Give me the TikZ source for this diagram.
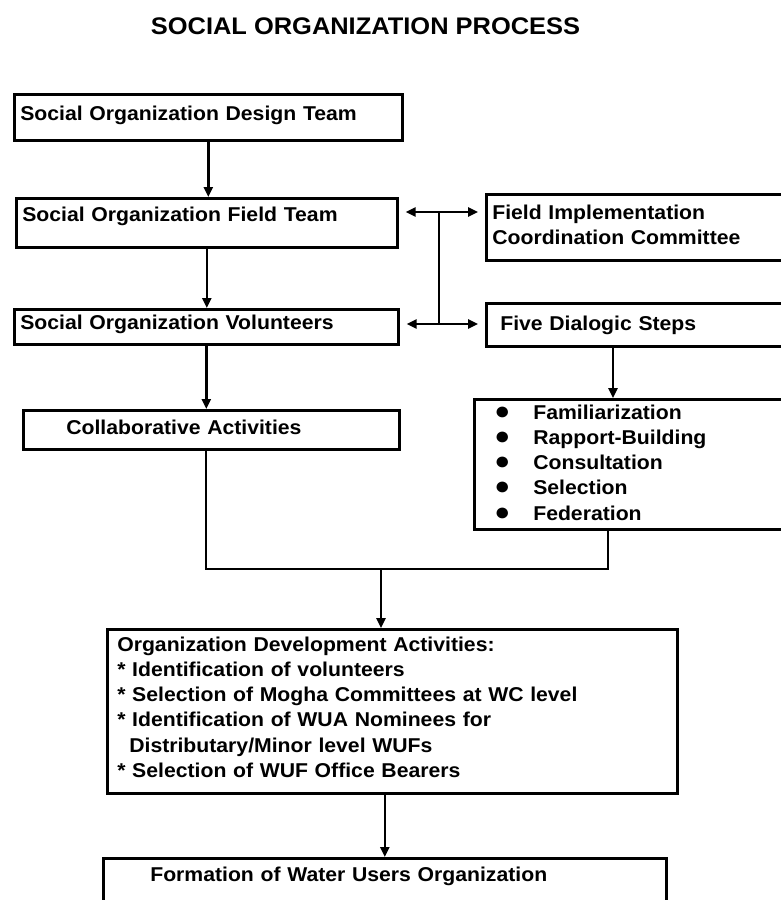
\documentclass[tikz,border=0pt]{standalone}
\usepackage{fontspec}
\setmainfont{Liberation Sans}[FakeStretch=1.06]
\usetikzlibrary{arrows.meta}

\newcommand{\dlgitem}{\makebox[39pt][l]{\fontsize{25}{0}\selectfont ●}}

\begin{document}
\begin{tikzpicture}[x=1pt,y=-1pt,>={Triangle[length=10pt,width=9pt]},line join=miter,
  box/.style={draw,line width=2.6pt,anchor=north west,align=left,inner ysep=0pt,inner xsep=6pt,
    font=\bfseries\fontsize{20}{25.2}\selectfont},
  link/.style={line width=2.4pt}]
\useasboundingbox (0,0) rectangle (781,900);
%%
\node (title) at (365.5,34) [anchor=base,font=\bfseries\fontsize{24}{28}\selectfont] {SOCIAL ORGANIZATION PROCESS};
%
\node (design) at (13,93) [box,text width=376pt,text height=26pt,text depth=20pt] {Social Organization Design Team};
  \node (field) at (15,197) [box,text width=369pt,text height=23pt,text depth=26pt] {Social Organization Field Team};
  \node (volunteers) at (13,308) [box,text width=372pt,text height=20pt,text depth=15pt] {Social Organization Volunteers};
  \node (collab) at (22,409) [box,inner xsep=43pt,text width=290pt,text height=24pt,text depth=15pt] {Collaborative Activities};
  \node (ficc) at (485,193) [box,text width=303pt,text height=25pt,text depth=41pt] {Field Implementation\\Coordination Committee};
  \node (five) at (485,302) [box,inner xsep=14pt,text width=287pt,text height=27pt,text depth=16pt] {Five Dialogic Steps};
  \node (list) at (473,398) [box,inner xsep=20pt,text width=287pt,text height=20pt,text depth=110pt]
    {\dlgitem Familiarization\\\dlgitem Rapport-Building\\\dlgitem Consultation\\\dlgitem Selection\\\dlgitem Federation};
  \node (oda) at (106,628) [box,inner xsep=10pt,text width=550pt,text height=22pt,text depth=142pt]
    {Organization Development Activities:\\{*} Identification of volunteers\\{*} Selection of Mogha Committees at WC level\\
     {*} Identification of WUA Nominees for\\\hspace*{12pt}Distributary/Minor level WUFs\\{*} Selection of WUF Office Bearers};
  \node (form) at (102,857) [box,inner xsep=47pt,text width=469pt,text height=23pt,text depth=60pt] {Formation of Water Users Organization};
%
\coordinate (hubtop) at (439,212);
  \coordinate (hubbot) at (439,324);
  \coordinate (dlgdrop) at (613,345);
  \coordinate (elbowL) at (206,569);
  \coordinate (elbowR) at (608,569);
  \coordinate (join) at (381,569);
%
\draw [link,->] (design.south) -- (design.south |- field.north);
  \draw [link,->] (field.south) -- (field.south |- volunteers.north);
  \draw [link,->] (volunteers.south) -- (volunteers.south |- collab.north);
  \draw [link] (hubtop) -- (hubbot);
  \draw [link,<->,shorten <=7pt,shorten >=7pt] (field.east |- hubtop) -- (ficc.west |- hubtop);
  \draw [link,<->,shorten <=7pt,shorten >=7pt] (volunteers.east |- hubbot) -- (five.west |- hubbot);
  \draw [link,->] (five.south -| dlgdrop) -- (list.north -| dlgdrop);
  \draw [link] (collab.south -| elbowL) -- (elbowL) -- (elbowR) -- (list.south -| elbowR);
  \draw [link,->] (join) -- (oda.north -| join);
  \draw [link,->] (form.north |- oda.south) -- (form.north);
%
\end{tikzpicture}
\end{document}
